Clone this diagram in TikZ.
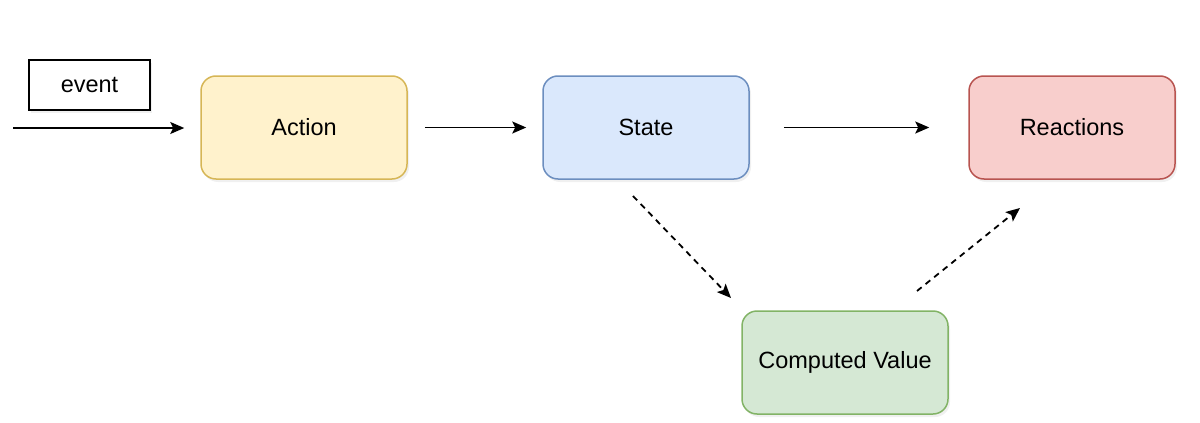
\documentclass[tikz,border=0pt]{standalone}
\usepackage{fontspec}
\setmainfont{Liberation Sans}
\usetikzlibrary{arrows.meta,shadows}

\definecolor{actfill}{HTML}{FFF2CC}
\definecolor{actline}{HTML}{D6B656}
\definecolor{stfill}{HTML}{DAE8FC}
\definecolor{stline}{HTML}{6C8EBF}
\definecolor{reafill}{HTML}{F8CECC}
\definecolor{realine}{HTML}{B85450}
\definecolor{cvfill}{HTML}{D5E8D4}
\definecolor{cvline}{HTML}{82B366}

\tikzset{every picture/.style={line width=1.5pt}}
\tikzset{
  box/.style={rounded corners=15pt, minimum width=206pt, minimum height=103pt,
    font=\fontsize{23.5}{28}\selectfont,
    drop shadow={opacity=0.12, shadow xshift=2pt, shadow yshift=-3pt}},
  flow/.style={line width=1.8pt, -{Stealth[length=14pt,width=12pt,inset=3pt]}},
  flowdash/.style={flow, dash pattern=on 6pt off 5pt}
}

\begin{document}
\begin{tikzpicture}[x=1pt,y=1pt,yscale=-1]
	\useasboundingbox (0,0) rectangle (1200,423);

	% boxes
	\node [draw, fill=white, minimum width=121pt, minimum height=50pt, font=\fontsize{23.5}{28}\selectfont,
	  drop shadow={opacity=0.12, shadow xshift=2pt, shadow yshift=-3pt}] (event) at (89.5,85) {event};
	\node [box, draw=actline, fill=actfill] (action) at (304,127.5) {Action};
	\node [box, draw=stline, fill=stfill] (state) at (646,127.5) {State};
	\node [box, draw=realine, fill=reafill] (reactions) at (1072,127.5) {Reactions};
	\node [box, draw=cvline, fill=cvfill] (computed) at (845,362.5) {Computed Value};

	% free ends
	\coordinate (in) at (13,128);
	\coordinate (stdown) at (633,196);
	\coordinate (cvin) at (731,298);
	\coordinate (cvout) at (917,291);
	\coordinate (reain) at (1020,208);

	% arrows
	\draw [flow, shorten >=16pt] (in) -- (action.west |- in);
	\draw [flow, shorten <=17pt, shorten >=16pt] (action) -- (state);
	\draw [flow, shorten <=34pt, shorten >=39pt] (state) -- (reactions);
	\draw [flowdash] (stdown) -- (cvin);
	\draw [flowdash] (cvout) -- (reain);

\end{tikzpicture}
\end{document}
